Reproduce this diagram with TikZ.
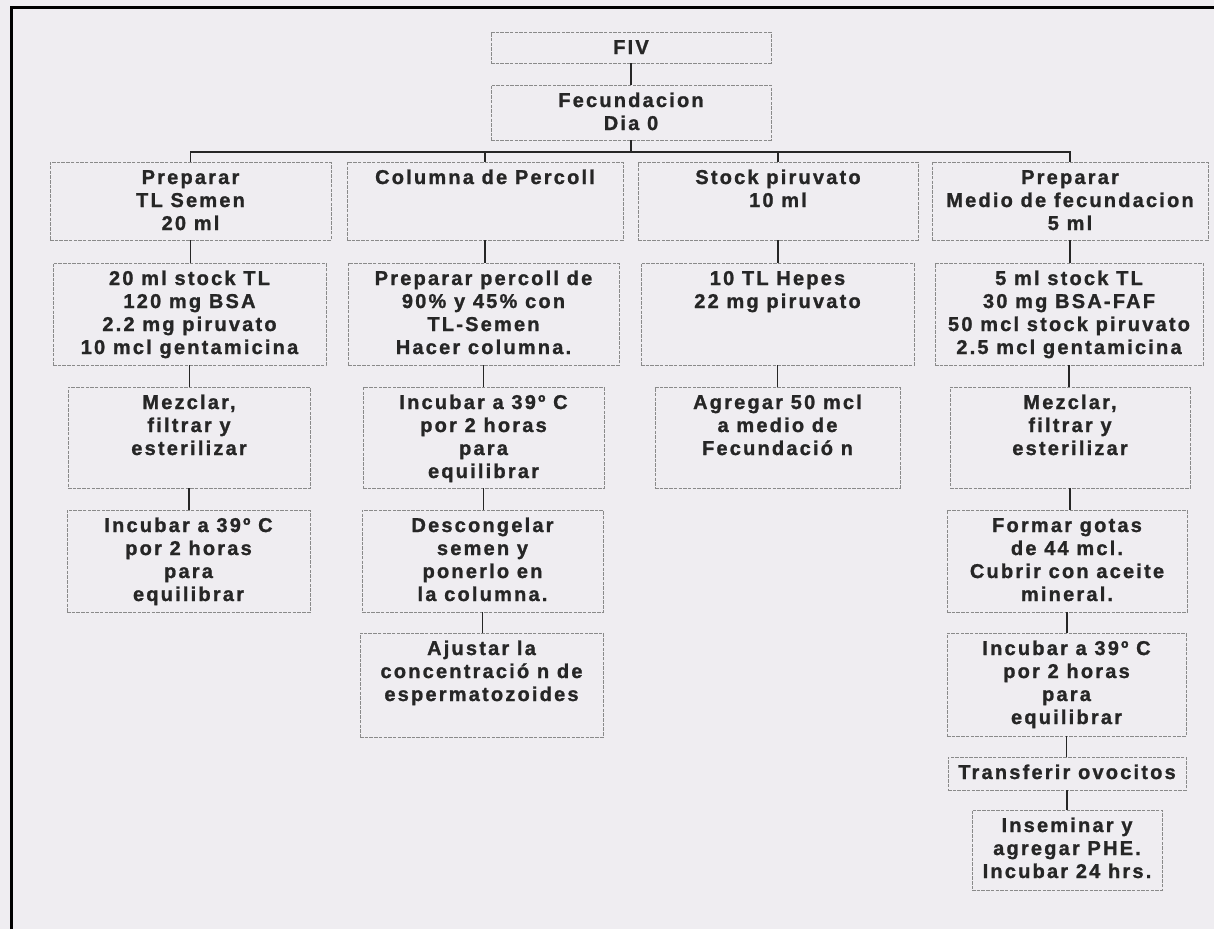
\documentclass[tikz,border=0pt]{standalone}
\usepackage{fontspec}
\newfontfamily\bxfont{Liberation Sans}[LetterSpace=11,FakeBold=1.2]
\definecolor{bg}{HTML}{EFEDF1}
\definecolor{ink}{HTML}{262626}
\definecolor{edge}{HTML}{8A8A8A}
\newcommand\bxn[6]{\node[bx] (#1) at ({(#2+#4)/2},{(#3+#5)/2}) {\parbox[c][\dimexpr#5pt-#3pt\relax][t]{\dimexpr#4pt-#2pt\relax}{\centering\bxfont\bfseries\fontsize{20}{23}\selectfont\rule{0pt}{22pt}#6\par}};}
\begin{document}
\begin{tikzpicture}[x=1pt,y=-1pt,
  bx/.style={draw=edge, line width=0.9pt, dash pattern=on 3.5pt off 1.2pt, inner sep=0pt, outer sep=0pt, text=ink},
  conn/.style={draw=ink, line width=1.8pt}]
\fill[bg] (0,0) rectangle (1214,929);
\useasboundingbox (0,0) rectangle (1214,929);
\draw[line width=3pt, black] (11,929) -- (11,7) -- (1214,7);
% top
\bxn{fiv}{491}{32}{771}{63}{FIV}
\bxn{fec}{491}{85}{771}{140}{Fecundacion\\Dia 0}
% column 1
\bxn{a1}{50}{162}{331}{240}{Preparar\\TL Semen\\20 ml}
\bxn{a2}{53}{263}{326}{365}{20 ml stock TL\\120 mg BSA\\2.2 mg piruvato\\10 mcl gentamicina}
\bxn{a3}{68}{387}{310}{488}{Mezclar,\\filtrar y\\esterilizar}
\bxn{a4}{67}{510}{310}{612}{Incubar a 39º C\\por 2 horas\\para\\equilibrar}
% column 2
\bxn{b1}{347}{162}{623}{240}{Columna de Percoll}
\bxn{b2}{348}{263}{619}{365}{Preparar percoll de\\90\% y 45\% con\\TL-Semen\\Hacer columna.}
\bxn{b3}{363}{387}{604}{488}{Incubar a 39º C\\por 2 horas\\para\\equilibrar}
\bxn{b4}{362}{510}{603}{612}{Descongelar\\semen y\\ponerlo en\\la columna.}
\bxn{b5}{360}{633}{603}{737}{Ajustar la\\concentració n de\\espermatozoides}
% column 3
\bxn{c1}{638}{162}{918}{240}{Stock piruvato\\10 ml}
\bxn{c2}{641}{263}{914}{365}{10 TL Hepes\\22 mg piruvato}
\bxn{c3}{655}{387}{900}{488}{Agregar 50 mcl\\a medio de\\Fecundació n}
% column 4
\bxn{d1}{932}{162}{1208}{240}{Preparar\\Medio de fecundacion\\5 ml}
\bxn{d2}{935}{263}{1203}{365}{5 ml stock TL\\30 mg BSA-FAF\\50 mcl stock piruvato\\2.5 mcl gentamicina}
\bxn{d3}{950}{387}{1190}{488}{Mezclar,\\filtrar y\\esterilizar}
\bxn{d4}{947}{510}{1187}{612}{Formar gotas\\de 44 mcl.\\Cubrir con aceite\\mineral.}
\bxn{d5}{947}{633}{1186}{736}{Incubar a 39º C\\por 2 horas\\para\\equilibrar}
\bxn{d6}{948}{757}{1186}{790}{Transferir ovocitos}
\bxn{d7}{972}{810}{1162}{890}{Inseminar y\\agregar PHE.\\Incubar 24 hrs.}
% connectors
\coordinate (bus) at (0,152);
\draw[conn] (fiv.south) -- (fec.north);
\draw[conn] (fec.south) -- (fec.south |- bus);
\draw[conn] (a1.north) -- (a1.north |- bus) -- (d1.north |- bus) -- (d1.north);
\draw[conn] (b1.north) -- (b1.north |- bus);
\draw[conn] (c1.north) -- (c1.north |- bus);
\draw[conn] (a1.south) -- (a1.south |- a2.north);
\draw[conn] (a2.south) -- (a2.south |- a3.north);
\draw[conn] (a3.south) -- (a3.south |- a4.north);
\draw[conn] (b1.south) -- (b1.south |- b2.north);
\draw[conn] (b2.south) -- (b2.south |- b3.north);
\draw[conn] (b3.south) -- (b3.south |- b4.north);
\draw[conn] (b4.south) -- (b4.south |- b5.north);
\draw[conn] (c1.south) -- (c1.south |- c2.north);
\draw[conn] (c2.south) -- (c2.south |- c3.north);
\draw[conn] (d1.south) -- (d1.south |- d2.north);
\draw[conn] (d2.south) -- (d2.south |- d3.north);
\draw[conn] (d3.south) -- (d3.south |- d4.north);
\draw[conn] (d4.south) -- (d4.south |- d5.north);
\draw[conn] (d5.south) -- (d5.south |- d6.north);
\draw[conn] (d6.south) -- (d6.south |- d7.north);
\end{tikzpicture}
\end{document}
